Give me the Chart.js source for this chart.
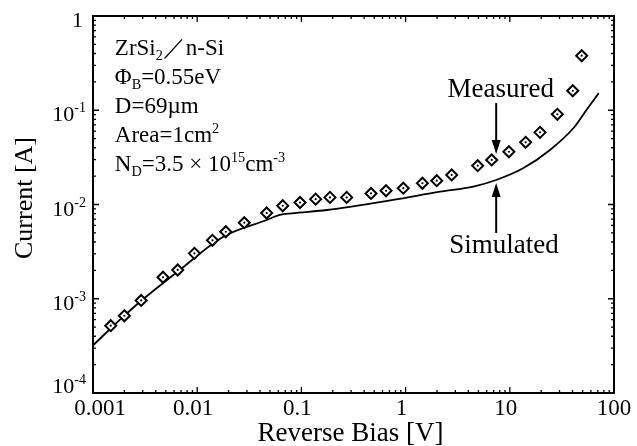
<!DOCTYPE html>
<html><head><meta charset="utf-8">
<script src="https://cdn.jsdelivr.net/npm/chart.js@4/dist/chart.umd.min.js"></script>
<style>html,body{margin:0;padding:0;background:#fff;} #wrap{width:637px;height:446px;position:relative;}</style>
</head><body><div id="wrap"><canvas id="c" width="637" height="446"></canvas></div>
<script>
// ---- data ----
const measuredBias = [0.00148, 0.002, 0.0029, 0.0047, 0.0065, 0.0094, 0.014, 0.0188, 0.0283, 0.0464,
  0.0662, 0.097, 0.137, 0.188, 0.272, 0.466, 0.649, 0.95, 1.45, 1.99, 2.77,
  4.92, 6.7, 9.8, 14.2, 19.5, 28.6, 40.2, 49];
const measuredCurrent = [5.18e-4, 6.6e-4, 9.6e-4, 1.69e-3, 2.02e-3, 3.03e-3, 4.17e-3, 5.14e-3, 6.41e-3, 8.13e-3,
  9.7e-3, 1.05e-2, 1.14e-2, 1.19e-2, 1.19e-2, 1.31e-2, 1.40e-2, 1.49e-2, 1.68e-2, 1.79e-2, 2.06e-2,
  2.58e-2, 2.97e-2, 3.63e-2, 4.57e-2, 5.83e-2, 9.06e-2, 0.161, 0.379];
const simulatedBias = [0.001, 0.00195, 0.00283, 0.0065, 0.0178, 0.0464, 0.0622, 0.08, 0.175, 0.76, 2.14, 4.47, 7.4, 13.4, 24.3, 41.5, 54.6, 71.3];
const simulatedCurrent = [3.2e-4, 6.45e-4, 9.3e-4, 1.94e-3, 4.55e-3, 6.85e-3, 7.74e-3, 8.05e-3, 8.74e-3, 1.12e-2, 1.37e-2, 1.55e-2, 1.82e-2, 2.42e-2, 3.79e-2, 6.6e-2, 0.101, 0.152];
const xTickValues = [0.001, 0.01, 0.1, 1, 10, 100];
const xTickLabels = ['0.001', '0.01', '0.1', '1', '10', '100'];
const yTickValues = [1e-4, 1e-3, 1e-2, 1e-1, 1];
const yTickBases = ['10', '10', '10', '10', '1'];
const yTickExponents = ['-4', '-3', '-2', '-1', ''];
const xTitle = 'Reverse Bias [V]';
const yTitle = 'Current [A]';
const infoLines = [
  [['ZrSi', 'n'], ['2', 'sub'], ['／', 'n'], ['n-Si', 'n']],
  [['Φ', 'n'], ['B', 'sub'], ['=0.55eV', 'n']],
  [['D=69µm', 'n']],
  [['Area=1cm', 'n'], ['2', 'sup']],
  [['N', 'n'], ['D', 'sub'], ['=3.5 × 10', 'n'], ['15', 'sup'], ['cm', 'n'], ['-3', 'sup']]
];
const measuredLabel = 'Measured';
const simulatedLabel = 'Simulated';

const SERIF = '"Liberation Serif", "Times New Roman", serif';

function drawRich(ctx, segs, x, y, size) {
  let cx = x;
  for (const [t, mode] of segs) {
    let fs = size, dy = 0;
    if (mode === 'sub') { fs = size * 0.62; dy = size * 0.22; }
    if (mode === 'sup') { fs = size * 0.62; dy = -size * 0.38; }
    ctx.font = fs + 'px ' + SERIF;
    ctx.fillText(t, cx, y + dy);
    cx += ctx.measureText(t).width;
  }
}

const framePlugin = {
  id: 'frame',
  afterDatasetsDraw(chart) {
    const ctx = chart.ctx, a = chart.chartArea;
    const xs = chart.scales.x, ys = chart.scales.y;
    ctx.save();
    ctx.fillStyle = '#000'; ctx.strokeStyle = '#000';
    // frame
    ctx.lineWidth = 2;
    ctx.strokeRect(a.left, a.top, a.right - a.left, a.bottom - a.top);
    // ticks
    ctx.lineWidth = 1.3;
    ctx.beginPath();
    for (let d = -3; d <= 2; d++) {
      for (let m = 1; m <= 9; m++) {
        const v = m * Math.pow(10, d);
        if (v > 100.0001) continue;
        const px = xs.getPixelForValue(v);
        const L = m === 1 ? 6 : 3;
        ctx.moveTo(px, a.bottom); ctx.lineTo(px, a.bottom - L);
        ctx.moveTo(px, a.top); ctx.lineTo(px, a.top + L);
      }
    }
    for (let d = -4; d <= 0; d++) {
      for (let m = 1; m <= 9; m++) {
        const v = m * Math.pow(10, d);
        if (v > 1.0001) continue;
        const py = ys.getPixelForValue(v);
        const L = m === 1 ? 6 : 3;
        ctx.moveTo(a.left, py); ctx.lineTo(a.left + L, py);
        ctx.moveTo(a.right, py); ctx.lineTo(a.right - L, py);
      }
    }
    ctx.stroke();
    // x tick labels
    ctx.font = '23px ' + SERIF;
    ctx.textAlign = 'center'; ctx.textBaseline = 'alphabetic';
    xTickValues.forEach((v, i) => {
      let px = xs.getPixelForValue(v);
      if (i === 0) px += 7;
      else if (i < xTickValues.length - 1) px -= 4;
      ctx.fillText(xTickLabels[i], px, 415);
    });
    // y tick labels
    yTickValues.forEach((v, i) => {
      const py = ys.getPixelForValue(v);
      const base = i === 0 ? py : py + 11;
      const right = 86;
      ctx.textAlign = 'left';
      ctx.font = '14px ' + SERIF;
      const ew = yTickExponents[i] ? ctx.measureText(yTickExponents[i]).width : 0;
      ctx.font = '22px ' + SERIF;
      const bw = ctx.measureText(yTickBases[i]).width;
      const start = right - ew - bw - (yTickExponents[i] ? 0 : 3);
      ctx.fillText(yTickBases[i], start, base);
      if (yTickExponents[i]) {
        ctx.font = '14px ' + SERIF;
        ctx.fillText(yTickExponents[i], start + bw, base - 9);
      }
    });
    // axis titles
    ctx.font = '27px ' + SERIF;
    ctx.textAlign = 'center';
    ctx.fillText(xTitle, (a.left + a.right) / 2 - 3, 441);
    ctx.save();
    ctx.translate(32, 198);
    ctx.rotate(-Math.PI / 2);
    ctx.font = '26px ' + SERIF;
    ctx.fillText(yTitle, 0, 0);
    ctx.restore();
    // info block
    ctx.textAlign = 'left';
    const x0 = xs.getPixelForValue(0.00162);
    infoLines.forEach((segs, i) => drawRich(ctx, segs, x0, 55 + i * 29, 23));
    // labels
    ctx.font = '27px ' + SERIF;
    ctx.textAlign = 'center';
    ctx.fillText(measuredLabel, xs.getPixelForValue(8.2), ys.getPixelForValue(0.138));
    ctx.fillText(simulatedLabel, xs.getPixelForValue(8.8), ys.getPixelForValue(0.00306));
    // arrows
    function arrow(xv, y1v, y2v) {
      const px = xs.getPixelForValue(xv);
      const p1 = ys.getPixelForValue(y1v), p2 = ys.getPixelForValue(y2v);
      const dir = p2 > p1 ? 1 : -1;
      ctx.lineWidth = 2;
      ctx.beginPath(); ctx.moveTo(px, p1); ctx.lineTo(px, p2 - dir * 10); ctx.stroke();
      ctx.beginPath();
      ctx.moveTo(px, p2);
      ctx.lineTo(px - 4.5, p2 - dir * 14);
      ctx.lineTo(px + 4.5, p2 - dir * 14);
      ctx.closePath(); ctx.fill();
    }
    arrow(7.4, 0.119, 0.0343);
    arrow(7.4, 0.00499, 0.0169);
    ctx.restore();
  }
};

const measuredPoints = measuredBias.map((x, i) => ({x, y: measuredCurrent[i]}));
const simulatedPoints = simulatedBias.map((x, i) => ({x, y: simulatedCurrent[i]}));

new Chart(document.getElementById('c'), {
  type: 'scatter',
  data: {
    datasets: [
      { label: 'Simulated', data: simulatedPoints, showLine: true, borderColor: '#000', borderWidth: 1.8,
        pointRadius: 0, cubicInterpolationMode: 'monotone', fill: false, order: 3 },
      { label: 'Measured', data: measuredPoints, pointStyle: 'rectRot', pointRadius: 5.5,
        pointBorderWidth: 2, pointBorderColor: '#000', pointBackgroundColor: '#fff', order: 2 },
      { label: 'Measured centre', data: measuredPoints, pointStyle: 'circle', pointRadius: 1.1,
        pointBorderWidth: 0, pointBackgroundColor: '#000', order: 1 }
    ]
  },
  options: {
    responsive: false, animation: false, devicePixelRatio: 1,
    layout: { padding: { left: 93, right: 23, top: 16, bottom: 53 } },
    plugins: { legend: { display: false }, tooltip: { enabled: false } },
    scales: {
      x: { type: 'logarithmic', min: 0.001, max: 100, display: false },
      y: { type: 'logarithmic', min: 1e-4, max: 1, display: false }
    }
  },
  plugins: [framePlugin]
});
</script>
</body></html>
